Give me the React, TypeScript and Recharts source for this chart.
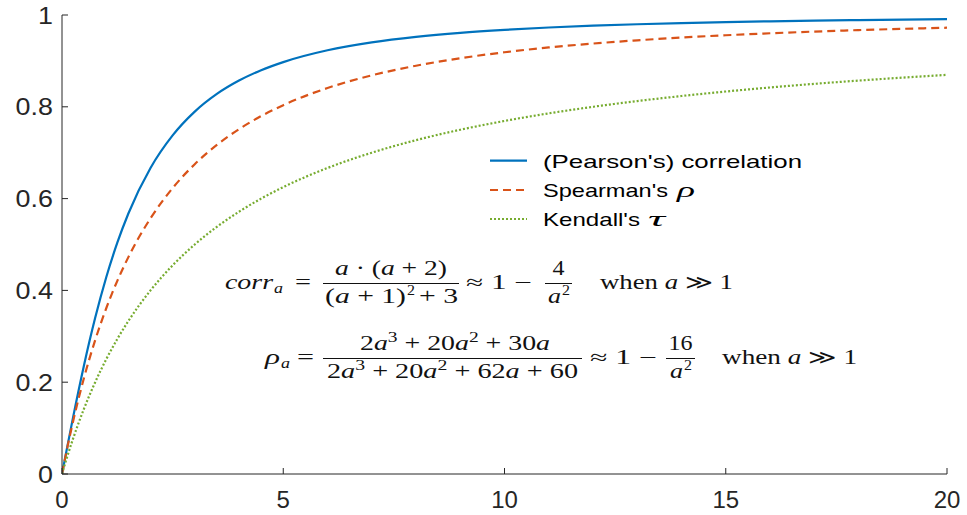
import React from 'react';
import { LineChart, Line, XAxis, YAxis, Legend } from 'recharts';

// ---- data ----
const aValues = [0, 0.1, 0.25, 0.5, 0.75, 1, 1.25, 1.5, 2, 2.5, 3, 3.5, 4, 4.5, 5, 6, 7, 8, 9, 10, 11, 12, 13, 14, 15, 16, 17, 18, 19, 20];
const pearson = [0, 0.0499, 0.1233, 0.2381, 0.3402, 0.4286, 0.5039, 0.5676, 0.6667, 0.7377, 0.7895, 0.828, 0.8571, 0.8797, 0.8974, 0.9231, 0.9403, 0.9524, 0.9612, 0.9677, 0.9728, 0.9767, 0.9799, 0.9825, 0.9846, 0.9863, 0.9878, 0.989, 0.9901, 0.991];
const spearman = [0, 0.0482, 0.1144, 0.2104, 0.2917, 0.3611, 0.4208, 0.4725, 0.5571, 0.6229, 0.675, 0.717, 0.7513, 0.7798, 0.8036, 0.8409, 0.8685, 0.8895, 0.9058, 0.9188, 0.9293, 0.9378, 0.9449, 0.9509, 0.9559, 0.9602, 0.9639, 0.9671, 0.9699, 0.9723];
const kendall = [0, 0.0323, 0.0769, 0.1429, 0.2, 0.25, 0.2941, 0.3333, 0.4, 0.4545, 0.5, 0.5385, 0.5714, 0.6, 0.625, 0.6667, 0.7, 0.7273, 0.75, 0.7692, 0.7857, 0.8, 0.8125, 0.8235, 0.8333, 0.8421, 0.85, 0.8571, 0.8636, 0.8696];

const xTicks = [0, 5, 10, 15, 20];
const xTickLabels = ['0', '5', '10', '15', '20'];
const yTicks = [0, 0.2, 0.4, 0.6, 0.8, 1];
const yTickLabels = ['0', '0.2', '0.4', '0.6', '0.8', '1'];

const seriesNames = ["(Pearson's) correlation", "Spearman's", "Kendall's"];
const seriesSymbols = ['', 'ρ', 'τ'];
const seriesColors = ['#0072BD', '#D95319', '#77AC30'];
const seriesDash = ['0', '8 5', '2 2'];

const data = aValues.map((a, i) => ({ a, pearson: pearson[i], spearman: spearman[i], kendall: kendall[i] }));

const AXIS = '#262626';
const SANS = "'Liberation Sans', Arial, Helvetica, sans-serif";
const SERIF = "'Liberation Serif', 'Times New Roman', serif";

const charW = (s: string) => {
  let w = 0;
  for (const c of s) w += c === '.' ? 0.278 : 0.556;
  return w;
};

const YTick = (props: any) => {
  const { x, y, payload } = props;
  const s = yTickLabels[payload.index] ?? String(payload.value);
  const fs = 24;
  return (
    <text x={x} y={y} dy="0.36em" textAnchor="end" fontSize={fs} fill={AXIS} fontFamily={SANS}
      textLength={charW(s) * fs * 1.12} lengthAdjust="spacingAndGlyphs">{s}</text>
  );
};

const XTick = (props: any) => {
  const { x, y, payload } = props;
  const s = xTickLabels[payload.index] ?? String(payload.value);
  const fs = 24;
  return (
    <text x={x} y={y} dy="0.71em" textAnchor="middle" fontSize={fs} fill={AXIS} fontFamily={SANS}>{s}</text>
  );
};

const LegendBox = () => {
  const rows = [18.7, 48, 77];
  const textW = [259, 125, 97];
  const symX = [0, 134, 105];
  const symW = [0, 18, 17];
  return (
    <svg width={340} height={95} style={{ overflow: 'visible' }}>
      {seriesNames.map((n, i) => (
        <g key={n}>
          <line x1={5} x2={42} y1={rows[i]} y2={rows[i]} stroke={seriesColors[i]} strokeWidth={2.2}
            strokeDasharray={seriesDash[i]} />
          <text x={58} y={rows[i] + 6.8} fontSize={19} fontFamily={SANS} fill="#000"
            textLength={textW[i]} lengthAdjust="spacingAndGlyphs">{n}</text>
          {seriesSymbols[i] ? (
            <text x={58 + symX[i]} y={rows[i] + 6.8} fontSize={20} fontFamily={SERIF} fontStyle="italic" fill="#000"
              textLength={symW[i]} lengthAdjust="spacingAndGlyphs">{seriesSymbols[i]}</text>
          ) : null}
        </g>
      ))}
    </svg>
  );
};

type TP = { x: number; y: number; w?: number; fs?: number; anchor?: 'start' | 'middle' | 'end'; italic?: boolean; children: React.ReactNode };
const T = ({ x, y, w, fs = 20, anchor = 'start', italic, children }: TP) => (
  <text x={x} y={y} fontSize={fs} fontFamily={SERIF} fill="#111" textAnchor={anchor}
    fontStyle={italic ? 'italic' : 'normal'}
    {...(w ? { textLength: w, lengthAdjust: 'spacingAndGlyphs' } : {})}>{children}</text>
);
const I = ({ children }: { children: React.ReactNode }) => <tspan fontStyle="italic">{children}</tspan>;
const Sup = ({ children }: { children: React.ReactNode }) => (
  <tspan dy={-8} fontSize={14}>{children}</tspan>
);

const Formulas = () => {
  const B1 = 288.5;
  const B2 = 363.5;
  return (
    <svg width={967} height={515} style={{ position: 'absolute', left: 0, top: 0, pointerEvents: 'none' }}>
      {/* line 1 */}
      <T x={225} y={B1} w={48} italic>corr</T>
      <T x={274} y={B1 + 4} w={9} fs={14} italic>a</T>
      <T x={295} y={B1} w={16}>=</T>
      <line x1={323} x2={459} y1={B1 - 5} y2={B1 - 5} stroke="#111" strokeWidth={1} />
      <T x={335} y={B1 - 13.5} w={112}><I>a</I> · (<I>a</I> + 2)</T>
      <T x={325} y={B1 + 14} w={81}>(<I>a</I> + 1)</T>
      <T x={407} y={B1 + 6} w={8} fs={14}>2</T>
      <T x={419} y={B1 + 14} w={39}>+ 3</T>
      <T x={466} y={B1} w={66}>≈ 1 −</T>
      <line x1={545} x2={572} y1={B1 - 5} y2={B1 - 5} stroke="#111" strokeWidth={1} />
      <T x={558.5} y={B1 - 13.5} w={12} anchor="middle">4</T>
      <T x={548} y={B1 + 14} w={13} italic>a</T>
      <T x={562} y={B1 + 6} w={8} fs={14}>2</T>
      <T x={600} y={B1} w={133}>when <I>a</I> ≫ 1</T>

      {/* line 2 */}
      <T x={265} y={B2} w={15} italic>ρ</T>
      <T x={281} y={B2 + 4} w={9} fs={14} italic>a</T>
      <T x={297} y={B2} w={17}>=</T>
      <line x1={323} x2={582} y1={B2 - 5} y2={B2 - 5} stroke="#111" strokeWidth={1} />
      <T x={360} y={B2 - 13.5} w={190}>2<I>a</I><Sup>3</Sup><tspan dy={8} fontSize={20}> + 20<I>a</I></tspan><Sup>2</Sup><tspan dy={8} fontSize={20}> + 30<I>a</I></tspan></T>
      <T x={327} y={B2 + 14} w={251}>2<I>a</I><Sup>3</Sup><tspan dy={8} fontSize={20}> + 20<I>a</I></tspan><Sup>2</Sup><tspan dy={8} fontSize={20}> + 62<I>a</I> + 60</tspan></T>
      <T x={590} y={B2} w={67}>≈ 1 −</T>
      <line x1={666} x2={695} y1={B2 - 5} y2={B2 - 5} stroke="#111" strokeWidth={1} />
      <T x={680.5} y={B2 - 13.5} w={24} anchor="middle">16</T>
      <T x={670} y={B2 + 14} w={13} italic>a</T>
      <T x={684} y={B2 + 6} w={8} fs={14}>2</T>
      <T x={722} y={B2} w={135}>when <I>a</I> ≫ 1</T>
    </svg>
  );
};

export default function App() {
  return (
    <div style={{ position: 'absolute', left: 0, top: 0, width: 967, height: 515, background: '#fff' }}>
      <LineChart width={967} height={515} data={data} margin={{ top: 15, right: 20, bottom: 0, left: 0 }}>
        <XAxis dataKey="a" type="number" domain={[0, 20]} ticks={xTicks} interval={0}
          height={41} tickSize={-6} tickMargin={23} stroke={AXIS} tick={<XTick />} allowDataOverflow />
        <XAxis xAxisId="top" orientation="top" dataKey="a" type="number" domain={[0, 20]} ticks={xTicks}
          height={0} tickSize={-6} stroke={AXIS} tickFormatter={() => ''} />
        <YAxis type="number" domain={[0, 1]} ticks={yTicks} interval={0} width={62} tickSize={-6}
          tickMargin={15} stroke={AXIS} tick={<YTick />} allowDataOverflow />
        <YAxis yAxisId="right" orientation="right" type="number" domain={[0, 1]} ticks={yTicks} width={0}
          tickSize={-6} stroke={AXIS} tickFormatter={() => ''} />
        <Line dataKey="pearson" name={seriesNames[0]} type="monotone" stroke={seriesColors[0]} strokeWidth={2.2}
          dot={false} isAnimationActive={false} />
        <Line dataKey="spearman" name={seriesNames[1]} type="monotone" stroke={seriesColors[1]} strokeWidth={2.2}
          strokeDasharray={seriesDash[1]} dot={false} isAnimationActive={false} />
        <Line dataKey="kendall" name={seriesNames[2]} type="monotone" stroke={seriesColors[2]} strokeWidth={2.2}
          strokeDasharray={seriesDash[2]} dot={false} isAnimationActive={false} />
        <Legend layout="vertical" verticalAlign="middle" align="center" content={<LegendBox />}
          wrapperStyle={{ left: 485, top: 142, width: 340, height: 95 }} />
      </LineChart>
      <Formulas />
    </div>
  );
}
